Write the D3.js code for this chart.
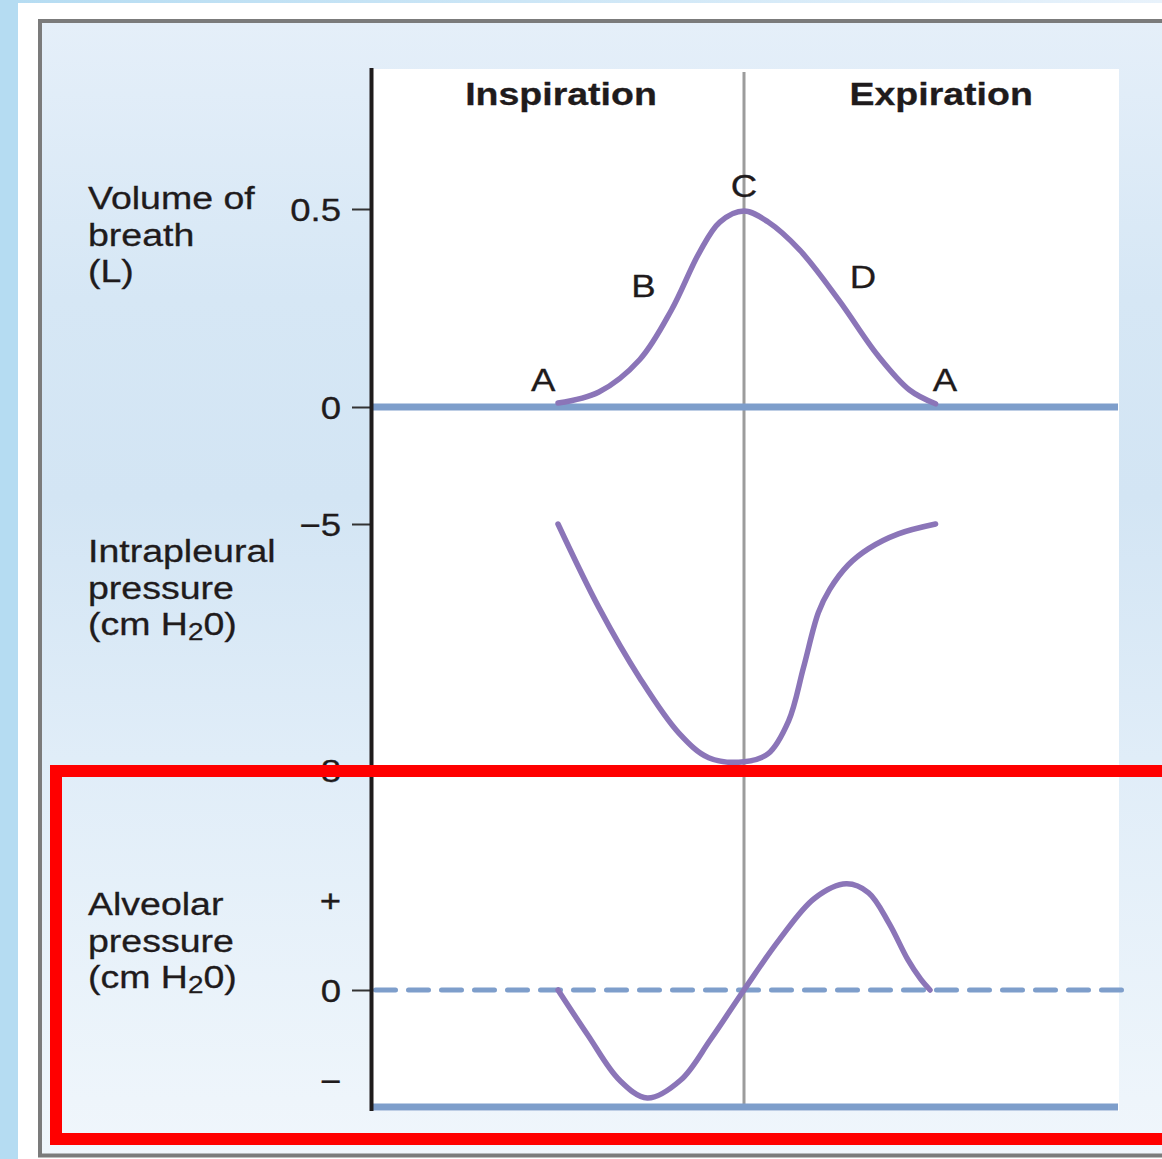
<!DOCTYPE html>
<html><head><meta charset="utf-8">
<script src="https://cdn.jsdelivr.net/npm/d3@7"></script>
<style>html,body{margin:0;padding:0;background:#fff;} svg{display:block;}</style>
</head><body>
<script>
// ---------- data (time in s: inspiration 0–2, expiration 2–4) ----------
const phases = ["Inspiration", "Expiration"];
const phaseCenter = [1.016, 3.06];

const volumeTime   = [1.0, 1.22, 1.44, 1.61, 1.76, 1.87, 2.0, 2.13, 2.3, 2.51, 2.72, 2.89, 3.03];
const volumeValues = [0.01, 0.038, 0.12, 0.245, 0.39, 0.467, 0.495, 0.467, 0.396, 0.27, 0.13, 0.043, 0.008];

const pleuralTime   = [1.0, 1.22, 1.44, 1.65, 1.81, 2.0, 2.13, 2.24, 2.32, 2.4, 2.46, 2.56, 2.67, 2.83, 3.03];
const pleuralValues = [-5.0, -6.02, -6.88, -7.55, -7.85, -7.9, -7.8, -7.4, -6.75, -6.08, -5.8, -5.5, -5.3, -5.12, -5.0];

const alveolarTime   = [1.0, 1.16, 1.33, 1.48, 1.66, 1.82, 2.0, 2.19, 2.38, 2.55, 2.67, 2.78, 2.88, 2.95, 3.0];
const alveolarValues = [0, -0.5, -1.0, -1.2, -1.0, -0.55, 0, 0.56, 1.02, 1.18, 1.08, 0.74, 0.34, 0.12, 0];

const volumeTicks = [0.5, 0];
const volumeTickLabels = ["0.5", "0"];
const pleuralTicks = [-5, -8];
const pleuralTickLabels = ["\u22125", "\u22128"];
const alveolarTicks = [1, 0, -1];
const alveolarTickLabels = ["+", "0", "\u2212"];

const pointLabels = ["A", "B", "C", "D", "A"];
const pointLabelTime = [0.92, 1.46, 2.0, 2.64, 3.08];
const pointLabelVolume = [0.068, 0.305, 0.558, 0.328, 0.068];

const rowTitles = [
  ["Volume of", "breath", "(L)"],
  ["Intrapleural", "pressure", "(cm H|2|0)"],
  ["Alveolar", "pressure", "(cm H|2|0)"]
];

// ---------- setup ----------
const W = 1162, H = 1159;
const FONT = "'Liberation Sans', Arial, sans-serif";
const TXT = "#1f1b1c", PURPLE = "#8b75b8", BLUE = "#7e9ecb";

const svg = d3.select("body").append("svg").attr("width", W).attr("height", H);
const defs = svg.append("defs");
const bg = defs.append("linearGradient").attr("id", "bg").attr("x1", 0).attr("y1", 0).attr("x2", 0).attr("y2", 1);
[[0, "#e5eff9"], [0.245, "#d6e7f5"], [0.42, "#d3e5f4"], [0.65, "#e0edf8"], [0.95, "#eef5fb"], [1, "#f0f6fc"]]
  .forEach(([o, c]) => bg.append("stop").attr("offset", o).attr("stop-color", c));
const topg = defs.append("linearGradient").attr("id", "topg").attr("x1", 0).attr("x2", 1).attr("y1", 0).attr("y2", 0);
[[0, "#b5dcf2"], [1, "#e8f2fb"]].forEach(([o, c]) => topg.append("stop").attr("offset", o).attr("stop-color", c));

svg.append("rect").attr("width", W).attr("height", H).attr("fill", "#fff");
svg.append("rect").attr("x", 0).attr("y", 0).attr("width", W).attr("height", 3).attr("fill", "url(#topg)");
svg.append("rect").attr("x", 0).attr("y", 0).attr("width", 18).attr("height", H).attr("fill", "#b5dcf2");
svg.append("rect").attr("x", 40).attr("y", 21).attr("width", 1200).attr("height", 1134.5)
  .attr("fill", "url(#bg)").attr("stroke", "#7b7b7b").attr("stroke-width", 4);

// scales
const x = d3.scaleLinear().domain([0, 4]).range([372, 1116]);
const yVol = d3.scaleLinear().domain([0, 0.5]).range([407, 209]);
const yPle = d3.scaleLinear().domain([-5, -8]).range([524, 770]);
const yAlv = d3.scaleLinear().domain([-1.3, 1]).range([1107, 900]);

// white plot area
svg.append("rect").attr("x", 373).attr("y", 69).attr("width", 746).attr("height", 1042).attr("fill", "#fff");

// phase divider
svg.append("line").attr("x1", x(2)).attr("x2", x(2)).attr("y1", 72).attr("y2", 1105)
  .attr("stroke", "#9c9c9c").attr("stroke-width", 3);

// text helper (horizontally stretched glyphs as in reference)
function txt(g, px, py, str, size, anchor, weight, sx) {
  const t = g.append("text").attr("transform", `translate(${px},${py}) scale(${sx || 1.18},1)`)
    .attr("font-family", FONT).attr("font-size", size).attr("fill", TXT)
    .attr("text-anchor", anchor || "start").attr("font-weight", weight || "normal")
    .attr("stroke", TXT).attr("stroke-width", 0.3);
  const parts = str.split("|");
  if (parts.length === 1) t.text(str);
  else {
    t.append("tspan").text(parts[0]);
    t.append("tspan").attr("font-size", 23).attr("dy", 5).text(parts[1]);
    t.append("tspan").attr("dy", -5).text(parts[2]);
  }
  return t;
}

// phase titles
phases.forEach((p, i) => txt(svg, x(phaseCenter[i]), 105, p, 31, "middle", "bold", 1.21));

// baselines
svg.append("line").attr("x1", 373).attr("x2", 1118).attr("y1", yVol(0)).attr("y2", yVol(0))
  .attr("stroke", BLUE).attr("stroke-width", 7);
svg.append("line").attr("x1", 373).attr("x2", 1118).attr("y1", yAlv(-1.3)).attr("y2", yAlv(-1.3))
  .attr("stroke", BLUE).attr("stroke-width", 7);
svg.append("line").attr("x1", 375.5).attr("x2", 1121.5).attr("y1", yAlv(0)).attr("y2", yAlv(0))
  .attr("stroke", BLUE).attr("stroke-width", 5).attr("stroke-dasharray", "20 13").attr("stroke-linecap", "round");

// curves
function curve(ts, vs, ys) {
  const data = ts.map((t, i) => [t, vs[i]]);
  svg.append("path").datum(data)
    .attr("d", d3.line().x(d => x(d[0])).y(d => ys(d[1])).curve(d3.curveCatmullRom.alpha(0.5)))
    .attr("fill", "none").attr("stroke", PURPLE).attr("stroke-width", 5.5).attr("stroke-linecap", "round");
}
curve(volumeTime, volumeValues, yVol);
curve(pleuralTime, pleuralValues, yPle);
curve(alveolarTime, alveolarValues, yAlv);

// point labels
pointLabels.forEach((l, i) => {
  txt(svg, x(pointLabelTime[i]), yVol(pointLabelVolume[i]) + 11, l, 31, "middle");
});

// axes
function axis(scale, ticks, labels, noLineFor) {
  const g = svg.append("g").attr("transform", "translate(370,0)")
    .call(d3.axisLeft(scale).tickValues(ticks).tickFormat((d, i) => labels[i]).tickSize(18).tickPadding(11));
  g.select(".domain").remove();
  g.selectAll(".tick line").attr("stroke", "#333").attr("stroke-width", 2);
  g.selectAll(".tick text").each(function () {
    d3.select(this).attr("transform", "translate(-29,0) scale(1.18,1)").attr("x", 0).attr("dy", "0.36em")
      .attr("font-family", FONT).attr("font-size", 31).attr("fill", TXT)
      .attr("stroke", TXT).attr("stroke-width", 0.3);
  });
  if (noLineFor) g.selectAll(".tick").filter(d => noLineFor.includes(d)).select("line").remove();
  g.attr("font-family", null).attr("font-size", null);
}
axis(yVol, volumeTicks, volumeTickLabels);
axis(yPle, pleuralTicks, pleuralTickLabels);
axis(yAlv, alveolarTicks, alveolarTickLabels, [1, -1]);

// left axis line
svg.append("line").attr("x1", 371.5).attr("x2", 371.5).attr("y1", 68).attr("y2", 1111)
  .attr("stroke", TXT).attr("stroke-width", 4);

// row titles
const rowBase = [209, 562, 915];
rowTitles.forEach((lines, r) => {
  lines.forEach((s, i) => txt(svg, 88, rowBase[r] + i * 36.5, s, 31, "start", "normal", 1.21));
});

// red highlight box
svg.append("rect").attr("x", 56).attr("y", 771).attr("width", 1150).attr("height", 368)
  .attr("fill", "none").attr("stroke", "#ff0000").attr("stroke-width", 12);
</script>
</body></html>
